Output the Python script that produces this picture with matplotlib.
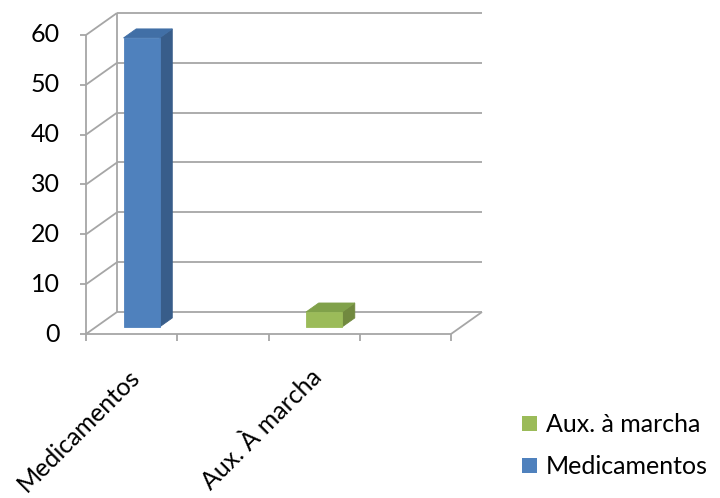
import matplotlib
matplotlib.use("Agg")
import matplotlib.pyplot as plt
from matplotlib.patches import Polygon, Rectangle

# ---- data ----
categories = ["Medicamentos", "Aux. À marcha"]
series_names = ["Medicamentos", "Aux. à marcha"]
values = [58, 3]
slots = [0.5, 2.5]          # category slot centres on a 0..4 floor
y_ticks = [0, 10, 20, 30, 40, 50, 60]
front_colors = ["#4F81BD", "#9BBB59"]
side_colors = ["#385D8A", "#71893F"]
top_colors = ["#416FA6", "#80A14A"]

plt.rcParams["font.family"] = ["Lato", "DejaVu Sans"]
FS = 18

W, H, DPI = 720, 498, 100
fig = plt.figure(figsize=(W / DPI, H / DPI), dpi=DPI)

# front plane of the 3-D box
x_left_px, x_right_px = 86, 451
y_bot_px, y_top_px = 334, 35
ax = fig.add_axes([x_left_px / W, (H - y_bot_px) / H,
                   (x_right_px - x_left_px) / W, (y_bot_px - y_top_px) / H])
XMAX, YMAX = 4, 60
ax.set_xlim(0, XMAX)
ax.set_ylim(0, YMAX)
ax.axis("off")

# oblique depth offset (full depth of the box) in data units
px_x = (x_right_px - x_left_px) / XMAX
px_y = (y_bot_px - y_top_px) / YMAX
DX = 31 / px_x
DY = 22 / px_y


def P(x, y, d):
    return (x + d * DX, y + d * DY)


grid_kw = dict(color="#A6A6A6", lw=1.3, clip_on=False, solid_capstyle="butt")

# walls and gridlines
for v in y_ticks:
    a, b = P(0, v, 0), P(0, v, 1)
    ax.plot([a[0], b[0]], [a[1], b[1]], **grid_kw)
    c = P(XMAX, v, 1)
    ax.plot([b[0], c[0]], [b[1], c[1]], **grid_kw)
# vertical wall edges
ax.plot(*zip(P(0, 0, 0), P(0, YMAX, 0)), **grid_kw)
ax.plot(*zip(P(0, 0, 1), P(0, YMAX, 1)), **grid_kw)
# floor
ax.plot(*zip(P(0, 0, 0), P(XMAX, 0, 0)), **grid_kw)
ax.plot(*zip(P(XMAX, 0, 0), P(XMAX, 0, 1)), **grid_kw)

# tick marks
tick_y = 6 / px_y
tick_x = 6 / px_x
for v in y_ticks:
    ax.plot([-tick_x, 0], [v, v], **grid_kw)
    ax.text(-26 / px_x, v, str(v), ha="right", va="center", fontsize=FS,
            color="#000000", clip_on=False)
for i in range(XMAX + 1):
    ax.plot([i, i], [0, -tick_y * 1.2], **grid_kw)

# 3-D bars
bar_w = 0.395
d0, d1 = 0.32, 0.73
for cx, v, fc, sc, tc in zip(slots, values, front_colors, side_colors, top_colors):
    x0, x1 = cx - bar_w / 2, cx + bar_w / 2
    side = [P(x1, 0, d0), P(x1, 0, d1), P(x1, v, d1), P(x1, v, d0)]
    top = [P(x0, v, d0), P(x1, v, d0), P(x1, v, d1), P(x0, v, d1)]
    front = [P(x0, 0, d0), P(x1, 0, d0), P(x1, v, d0), P(x0, v, d0)]
    for poly, col in ((side, sc), (top, tc), (front, fc)):
        ax.add_patch(Polygon(poly, closed=True, facecolor=col,
                             edgecolor=col, lw=0.6, clip_on=False, zorder=3))

# category labels
for cx, lab in zip(slots, categories):
    ax.annotate(lab, xy=(cx, 0), xytext=(-3, -22), textcoords="offset points",
                ha="right", va="top", rotation=45, rotation_mode="anchor",
                fontsize=FS, color="#000000", annotation_clip=False)

# legend (series listed in reverse order, as in the chart)
leg_items = list(zip(series_names, front_colors))[::-1]
for k, (name, col) in enumerate(leg_items):
    yc = 424 + k * 42
    fig.add_artist(Rectangle((522 / W, (H - yc - 7) / H), 15 / W, 15 / H,
                             transform=fig.transFigure, facecolor=col,
                             edgecolor="none"))
    fig.text(546 / W, (H - yc) / H, name, ha="left", va="center",
             fontsize=FS, color="#000000")

fig.savefig("out.png", dpi=DPI)
